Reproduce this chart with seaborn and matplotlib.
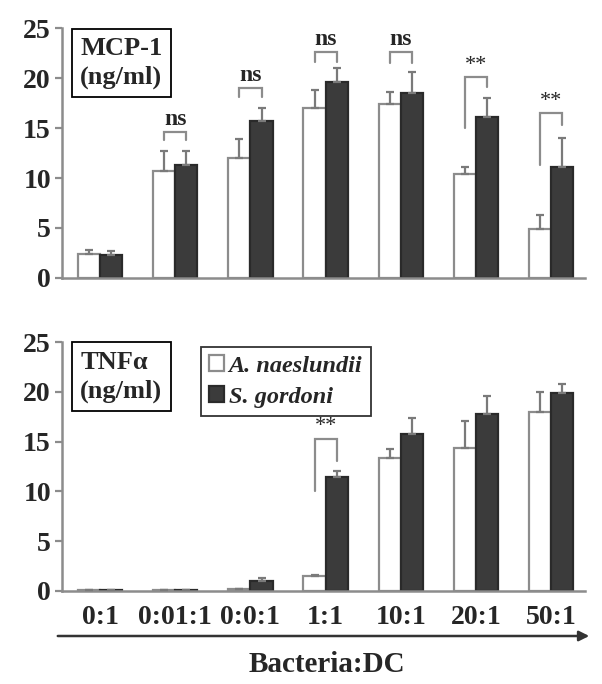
import matplotlib
matplotlib.use("Agg")
import matplotlib.pyplot as plt
import pandas as pd
import seaborn as sns

# ── data ───────────────────────────────────────────────────────────────
ratios = ["0:1", "0:01:1", "0:0:1", "1:1", "10:1", "20:1", "50:1"]
strains = ["A. naeslundii", "S. gordoni"]

mcp_naes = [2.4, 10.7, 12.0, 17.0, 17.4, 10.4, 4.9]
mcp_naes_err = [0.4, 2.0, 1.9, 1.8, 1.2, 0.7, 1.4]
mcp_gord = [2.3, 11.3, 15.7, 19.6, 18.5, 16.1, 11.1]
mcp_gord_err = [0.4, 1.4, 1.3, 1.4, 2.1, 1.9, 2.9]

tnf_naes = [0.05, 0.1, 0.2, 1.5, 13.4, 14.4, 18.0]
tnf_naes_err = [0.0, 0.0, 0.0, 0.15, 0.9, 2.7, 2.0]
tnf_gord = [0.05, 0.1, 1.0, 11.4, 15.8, 17.8, 19.9]
tnf_gord_err = [0.0, 0.0, 0.3, 0.6, 1.6, 1.8, 0.9]

# significance: (group index, label, bracket top, left leg end, right leg end)
mcp_sig = [(1, "ns", 14.6, 13.8, 13.8), (2, "ns", 19.0, 18.1, 18.1),
           (3, "ns", 22.6, 21.6, 21.6), (4, "ns", 22.6, 21.5, 21.5),
           (5, "**", 20.1, 15.0, 19.1), (6, "**", 16.5, 11.3, 15.3)]
tnf_sig = [(3, "**", 15.3, 10.0, 13.1)]

WHITE, DARK = "#ffffff", "#3b3b3b"
GREY = "#8c8c8c"

sns.set_theme(style="white")
plt.rcParams["font.family"] = ["Liberation Serif", "DejaVu Serif"]


def _frame(a, a_err, b, b_err):
    return pd.DataFrame({
        "ratio": ratios * 2,
        "strain": [strains[0]] * len(ratios) + [strains[1]] * len(ratios),
        "value": a + b,
        "err": a_err + b_err,
    })


def draw_panel(ax, df, sig, label):
    sns.barplot(data=df, x="ratio", y="value", hue="strain", hue_order=strains,
                palette=[WHITE, DARK], width=0.59, errorbar=None, legend=False,
                saturation=1, ax=ax)
    bars = list(ax.containers[:2])
    centers = []
    for cont, edge, s in zip(bars, [GREY, "#2a2a2a"], strains):
        errs = df[df["strain"] == s]["err"].tolist()
        xs, ys = [], []
        for p in cont.patches:
            p.set_edgecolor(edge)
            p.set_linewidth(1.6)
            xs.append(p.get_x() + p.get_width() / 2)
            ys.append(p.get_height())
        centers.append(xs)
        ax.errorbar(xs, ys, yerr=[[0] * len(errs), errs], fmt="none", ecolor="#7a7a7a",
                    elinewidth=1.6, capsize=3, capthick=1.6, zorder=3)

    for gi, txt, top, l_end, r_end in sig:
        x0, x1 = centers[0][gi], centers[1][gi]
        ax.plot([x0, x0, x1, x1], [l_end, top, top, r_end], color=GREY, lw=1.6,
                solid_joinstyle="miter", zorder=4)
        ax.text((x0 + x1) / 2, top + 0.25, txt, ha="center", va="bottom",
                fontsize=17 if txt == "ns" else 16,
                fontweight="bold" if txt == "ns" else "normal")

    ax.set_xlim(-0.505, 6.45)
    ax.set_ylim(0, 25)
    ax.set_yticks([0, 5, 10, 15, 20, 25])
    for side in ["top", "right"]:
        ax.spines[side].set_visible(False)
    for side in ["left", "bottom"]:
        ax.spines[side].set_color(GREY)
        ax.spines[side].set_linewidth(1.8)
    ax.tick_params(axis="y", left=True, length=5, width=1.6, color=GREY,
                   labelsize=20, pad=3)
    ax.tick_params(axis="x", bottom=False, length=0, labelsize=20, pad=10)
    for t in ax.get_yticklabels() + ax.get_xticklabels():
        t.set_fontweight("bold")
    ax.set_xlabel("")
    ax.set_ylabel("")
    ax.text(0.035, 0.965, label, transform=ax.transAxes, ha="left", va="top",
            fontsize=19, fontweight="bold", linespacing=1.3,
            bbox=dict(boxstyle="square,pad=0.33", fc="white", ec="black", lw=1.3))
    return bars


fig = plt.figure(figsize=(6.02, 6.84), dpi=100)
ax_top = fig.add_axes([0.103, 0.5936, 0.869, 0.3654])
ax_bot = fig.add_axes([0.103, 0.136, 0.869, 0.364])

draw_panel(ax_top, _frame(mcp_naes, mcp_naes_err, mcp_gord, mcp_gord_err),
           mcp_sig, "MCP-1\n(ng/ml)")
ax_top.set_xticklabels([])

bot_bars = draw_panel(ax_bot, _frame(tnf_naes, tnf_naes_err, tnf_gord, tnf_gord_err),
                      tnf_sig, "TNFα\n(ng/ml)")

leg = ax_bot.legend(bot_bars, strains, loc="upper left",
                    bbox_to_anchor=(0.265, 0.98), frameon=True, fancybox=False,
                    handlelength=0.6, handleheight=0.6, handletextpad=0.2,
                    borderpad=0.35, labelspacing=0.4, borderaxespad=0,
                    prop=dict(family="Liberation Serif", style="italic",
                              weight="bold", size=17.5))
leg.get_frame().set_edgecolor("black")
leg.get_frame().set_linewidth(1.3)

# axis arrow and title under the lower panel
fig.patches.append(matplotlib.patches.FancyArrowPatch(
    (55 / 602, 1 - 636 / 684), (592 / 602, 1 - 636 / 684),
    transform=fig.transFigure, arrowstyle="-|>,head_length=6,head_width=3",
    color="#333333", lw=1.8, mutation_scale=1))
fig.text(327 / 602, 1 - 664 / 684, "Bacteria:DC", ha="center", va="center",
         fontsize=21, fontweight="bold")

fig.savefig("out.png", dpi=100)
